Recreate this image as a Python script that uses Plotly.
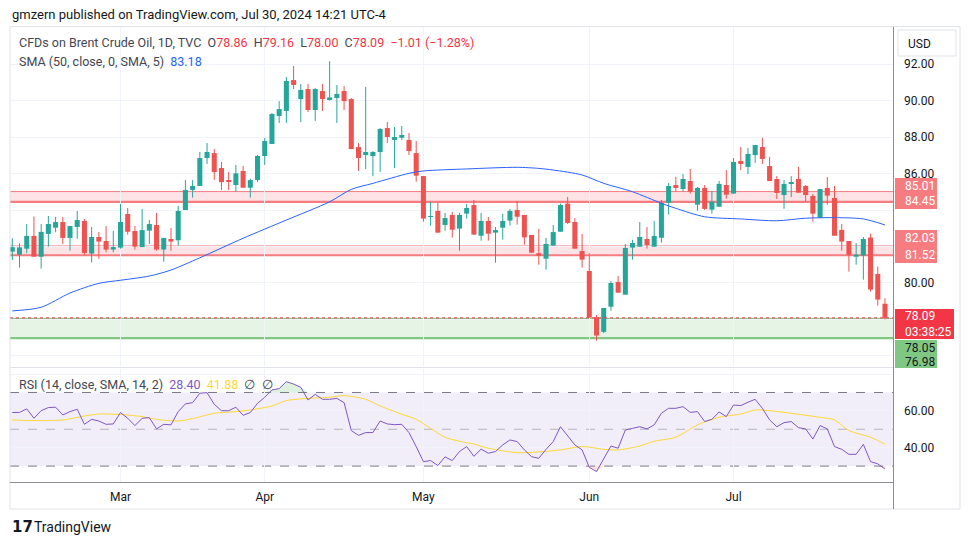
import plotly.graph_objects as go
import pandas as pd

# ---------------- data ----------------
dates = [d.strftime('%Y-%m-%d') for d in pd.bdate_range('2024-02-09', '2024-07-30')
         if d.strftime('%Y-%m-%d') != '2024-03-29']

opens = [81.72, 81.55, 81.88, 82.58, 81.44, 82.69, 83.03, 83.34, 82.47, 83.07,
         83.40, 81.61, 82.52, 82.30, 81.83, 81.94, 83.78, 82.85, 81.97, 82.87,
         83.18, 81.83, 82.41, 82.34, 84.00, 85.10, 85.32, 86.85, 87.12, 86.30,
         85.60, 85.37, 86.14, 85.22, 85.64, 86.96, 87.62, 89.15, 89.43, 91.12,
         90.08, 90.63, 89.48, 90.52, 90.03, 90.14, 90.52, 90.08, 87.45, 87.01,
         86.96, 87.18, 88.49, 87.84, 87.96, 87.84, 87.12, 85.86, 83.63, 83.95,
         83.18, 83.73, 82.98, 83.80, 84.27, 82.59, 83.40, 82.76, 83.03, 83.42,
         84.00, 83.73, 82.63, 81.63, 81.33, 82.05, 82.81, 84.35, 83.34, 81.75,
         80.66, 78.12, 77.32, 78.70, 80.06, 79.36, 81.94, 81.99, 82.41, 81.99,
         82.48, 84.40, 85.37, 85.15, 85.59, 84.29, 85.21, 84.02, 84.18, 85.37,
         84.90, 86.69, 86.36, 87.01, 87.45, 86.41, 85.70, 84.82, 85.46, 85.70,
         85.32, 84.77, 83.58, 85.21, 84.66, 82.91, 82.30, 81.44, 81.50, 82.49,
         80.49, 78.86]
highs = [82.45, 82.17, 83.23, 83.64, 83.23, 83.67, 83.62, 83.62, 83.12, 83.95,
         83.51, 83.07, 82.80, 83.12, 82.85, 84.33, 84.11, 83.12, 84.06, 83.45,
         83.84, 82.47, 83.01, 84.22, 85.64, 85.64, 87.18, 87.67, 87.34, 86.63,
         86.08, 86.47, 86.41, 85.72, 87.01, 87.95, 89.32, 89.97, 91.29, 91.89,
         90.90, 90.90, 90.69, 90.90, 92.16, 90.85, 90.79, 90.14, 87.67, 90.74,
         87.23, 88.49, 88.82, 88.55, 88.60, 88.22, 87.78, 85.86, 84.44, 84.40,
         83.84, 83.89, 83.84, 84.33, 84.55, 83.84, 83.62, 83.07, 83.78, 84.06,
         84.49, 83.73, 82.63, 82.96, 82.47, 83.18, 84.35, 84.71, 83.56, 82.69,
         81.63, 78.25, 78.63, 80.11, 80.38, 82.14, 82.36, 83.34, 83.07, 83.40,
         84.55, 85.48, 85.81, 85.97, 86.25, 85.26, 85.37, 85.04, 85.59, 86.19,
         86.85, 87.45, 87.40, 87.56, 87.95, 86.91, 85.86, 85.64, 85.86, 86.36,
         85.37, 84.88, 85.15, 85.81, 85.32, 83.23, 82.30, 82.19, 82.52, 82.70,
         80.90, 79.16]
lows = [81.26, 80.84, 81.63, 81.44, 80.79, 81.99, 82.78, 82.14, 81.77, 82.43,
        81.52, 81.12, 81.33, 81.68, 81.68, 81.88, 82.65, 81.83, 81.96, 82.14,
        81.77, 81.17, 81.77, 82.05, 84.00, 84.68, 85.32, 86.52, 85.64, 85.10,
        85.10, 85.00, 85.22, 84.68, 85.53, 86.47, 87.62, 88.77, 88.77, 90.63,
        88.82, 89.37, 88.88, 89.43, 90.00, 88.77, 89.48, 87.34, 86.14, 86.25,
        85.86, 86.10, 87.67, 86.30, 87.84, 87.01, 85.55, 83.36, 83.14, 82.76,
        82.87, 82.48, 81.77, 83.53, 82.65, 82.32, 82.32, 81.11, 82.37, 83.14,
        83.20, 82.10, 81.66, 81.00, 80.73, 82.05, 82.81, 83.23, 81.88, 80.84,
        78.10, 76.84, 77.26, 78.48, 79.47, 79.36, 81.28, 81.99, 81.88, 81.99,
        82.21, 83.75, 85.00, 85.00, 84.90, 83.96, 84.00, 83.80, 84.18, 84.62,
        84.90, 86.19, 85.97, 86.58, 86.52, 85.59, 84.60, 84.07, 84.71, 84.95,
        84.46, 83.36, 83.58, 84.29, 82.59, 81.77, 80.62, 81.00, 80.18, 79.53,
        78.76, 78.00]
closes = [81.96, 81.95, 82.58, 81.44, 82.80, 83.23, 83.34, 82.47, 83.12, 83.45,
          81.64, 82.52, 82.27, 81.83, 81.97, 83.34, 82.81, 81.99, 82.90, 83.23,
          81.83, 82.47, 82.27, 83.95, 85.10, 85.32, 86.85, 87.18, 86.08, 85.53,
          85.55, 86.01, 85.22, 85.64, 86.96, 87.78, 89.26, 89.53, 91.07, 90.85,
          90.58, 89.48, 90.63, 90.08, 90.17, 90.36, 89.97, 87.34, 86.85, 87.18,
          87.18, 88.44, 88.00, 88.00, 88.11, 87.23, 85.88, 83.53, 83.67, 82.76,
          83.56, 82.92, 83.73, 84.11, 82.65, 83.40, 82.70, 82.90, 83.40, 83.95,
          83.63, 82.50, 81.66, 81.50, 82.14, 82.79, 84.27, 83.29, 81.88, 81.28,
          78.10, 77.12, 78.63, 80.00, 79.47, 81.92, 82.19, 82.52, 82.08, 82.58,
          84.38, 85.32, 85.21, 85.70, 85.01, 85.21, 84.06, 84.46, 85.43, 84.84,
          86.63, 86.52, 87.07, 87.56, 86.80, 85.59, 84.93, 85.43, 85.53, 84.95,
          84.82, 83.80, 85.15, 84.79, 82.59, 82.27, 81.55, 81.55, 82.41, 79.64,
          79.09, 78.09]

sma_bar = [1, 5, 9, 13, 16, 20, 23, 27, 33, 39, 45, 48, 51, 56, 58, 64, 71, 74, 76,
           80, 83, 87, 91, 93, 97, 102, 107, 111, 115, 119, 122]
sma_val = [78.47, 78.67, 79.45, 79.98, 80.15, 80.38, 80.71, 81.38, 82.45, 83.45,
           84.45, 85.13, 85.46, 86.01, 86.14, 86.25, 86.34, 86.28, 86.19, 85.92,
           85.46, 85.00, 84.37, 84.09, 83.63, 83.51, 83.41, 83.55, 83.58, 83.51, 83.18]

rsi = [59.1, 59.2, 61.1, 56.0, 60.1, 61.8, 62.0, 57.8, 59.6, 60.9,
       52.7, 55.4, 54.5, 52.7, 52.9, 59.1, 56.0, 52.0, 56.0, 56.3,
       50.2, 52.7, 52.4, 59.6, 63.8, 64.5, 69.6, 69.9, 63.6, 60.1,
       60.1, 62.0, 57.6, 59.1, 64.1, 67.4, 71.4, 72.1, 75.9, 74.6,
       72.8, 65.9, 69.0, 66.3, 66.3, 66.8, 64.5, 49.3, 46.7, 48.2,
       48.2, 54.5, 52.9, 52.5, 52.7, 48.2, 40.6, 32.4, 33.0, 30.3,
       35.0, 33.0, 37.9, 40.6, 35.3, 39.2, 37.0, 37.9, 41.5, 44.2,
       43.3, 38.8, 35.1, 34.2, 39.1, 43.3, 51.4, 46.4, 41.5, 38.8,
       29.3, 27.0, 34.2, 40.9, 39.7, 49.6, 50.5, 51.4, 50.2, 52.4,
       58.7, 61.4, 61.4, 62.3, 59.2, 59.6, 54.2, 55.4, 59.4, 56.9,
       63.2, 62.9, 64.7, 66.3, 61.4, 55.1, 51.4, 53.6, 54.2, 50.9,
       50.2, 44.7, 52.0, 50.2, 40.6, 39.1, 36.4, 36.4, 41.8, 32.4,
       31.2, 28.4]

rsi_sma_bar = [1, 4, 8, 11, 13, 16, 19, 21, 24, 26, 29, 32, 34, 37, 39, 42, 45, 47,
               50, 52, 55, 57, 59, 61, 63, 65, 67, 71, 74, 77, 80, 83, 85, 88, 90,
               93, 96, 99, 102, 104, 106, 109, 113, 115, 117, 120, 122]
rsi_sma_val = [55.1, 54.7, 55.1, 57.2, 58.3, 58.0, 56.9, 55.4, 54.5, 55.8, 58.7,
               59.6, 60.5, 62.7, 65.6, 66.8, 67.4, 68.3, 66.3, 62.7, 58.2, 55.4,
               50.5, 45.7, 43.5, 42.0, 39.7, 37.3, 37.7, 38.8, 40.6, 39.1, 38.8,
               40.9, 43.5, 45.7, 52.4, 56.5, 58.3, 60.5, 60.1, 58.7, 56.5, 55.1,
               49.3, 45.7, 41.88]

zones_red = [(84.45, 85.01), (81.52, 82.03)]
zone_green = (76.98, 78.05)
last_price = 78.09
countdown = '03:38:25'
rsi_upper, rsi_mid, rsi_lower = 70, 50, 30

month_ticks = ['2024-03-01', '2024-04-01', '2024-05-01', '2024-06-03', '2024-07-01']
month_text = ['Mar', 'Apr', 'May', 'Jun', 'Jul']
price_labels = [80, 86, 88, 90, 92]
price_grid_only = [76, 78, 82, 84]
rsi_labels = [40, 60]
rsi_grid_only = [80]

# ---------------- layout helpers (reference-pixel based; page has 8px body margin) ----------------
OFF = 8
W, H = 970 - OFF, 545 - OFF
PL, PR, PT, PB = 10, 893, 27, 483          # plot area in reference pixels
ML, MR, MT, MB = PL - OFF, 970 - PR, PT - OFF, 545 - PB
PW, PH = PR - PL, PB - PT
FONT = 'Roboto'
TXT = '#131722'
LEG = '#434651'
GRID = '#f0f3fa'
UP, DN = '#26a69a', '#ef5350'


def px(x):
    return (x - PL) / PW


def py(y):
    return (PB - y) / PH


main_dom = [py(366), 1.0]
rsi_dom = [0.0, py(369)]

fig = go.Figure()

# candles: wicks as line segments, bodies as bars
for is_up, col in [(True, UP), (False, DN)]:
    idx = [i for i in range(len(dates)) if (closes[i] >= opens[i]) == is_up]
    wx, wy = [], []
    for i in idx:
        wx += [dates[i], dates[i], None]
        wy += [lows[i], highs[i], None]
    fig.add_trace(go.Scatter(x=wx, y=wy, mode='lines', line=dict(color=col, width=1),
                             xaxis='x', yaxis='y', hoverinfo='skip', showlegend=False,
                             connectgaps=False))
    fig.add_trace(go.Bar(x=[dates[i] for i in idx],
                         base=[min(opens[i], closes[i]) for i in idx],
                         y=[max(abs(closes[i] - opens[i]), 0.04) for i in idx],
                         width=0.7, marker=dict(color=col, line=dict(width=0)),
                         xaxis='x', yaxis='y', hoverinfo='skip', showlegend=False))

fig.add_trace(go.Scatter(
    x=[dates[i - 1] for i in sma_bar], y=sma_val, mode='lines',
    line=dict(color='#2962ff', width=1, shape='spline', smoothing=0.8),
    xaxis='x', yaxis='y', hoverinfo='skip', showlegend=False))

# RSI overbought / oversold fills
for lvl, fn, fc in [(rsi_upper, max, 'rgba(76,175,80,0.18)'),
                    (rsi_lower, min, 'rgba(242,54,69,0.15)')]:
    fig.add_trace(go.Scatter(x=dates, y=[lvl] * len(dates), mode='lines',
                             line=dict(width=0), xaxis='x2', yaxis='y2',
                             hoverinfo='skip', showlegend=False))
    fig.add_trace(go.Scatter(x=dates, y=[fn(r, lvl) for r in rsi], mode='lines',
                             line=dict(width=0), fill='tonexty', fillcolor=fc,
                             xaxis='x2', yaxis='y2', hoverinfo='skip', showlegend=False))

fig.add_trace(go.Scatter(
    x=[dates[i - 1] for i in rsi_sma_bar], y=rsi_sma_val, mode='lines',
    line=dict(color='#fdd835', width=1, shape='spline', smoothing=0.8),
    xaxis='x2', yaxis='y2', hoverinfo='skip', showlegend=False))

fig.add_trace(go.Scatter(
    x=dates, y=rsi, mode='lines', line=dict(color='#7e57c2', width=1),
    xaxis='x2', yaxis='y2', hoverinfo='skip', showlegend=False))

shapes = []
for lo, hi in zones_red:
    shapes.append(dict(type='rect', xref='paper', yref='y', x0=0, x1=1, y0=lo, y1=hi,
                       fillcolor='rgba(242,54,69,0.14)', line=dict(width=0), layer='below'))
    shapes.append(dict(type='line', xref='paper', yref='y', x0=0, x1=1, y0=hi, y1=hi,
                       line=dict(color='#f77c80', width=1), layer='below'))
    shapes.append(dict(type='line', xref='paper', yref='y', x0=0, x1=1, y0=lo, y1=lo,
                       line=dict(color='#f77c80', width=2.2), layer='below'))
lo, hi = zone_green
shapes.append(dict(type='rect', xref='paper', yref='y', x0=0, x1=1, y0=lo, y1=hi,
                   fillcolor='rgba(76,175,80,0.14)', line=dict(width=0), layer='below'))
shapes.append(dict(type='line', xref='paper', yref='y', x0=0, x1=1, y0=hi, y1=hi,
                   line=dict(color='#81c784', width=1), layer='below'))
shapes.append(dict(type='line', xref='paper', yref='y', x0=0, x1=1, y0=lo, y1=lo,
                   line=dict(color='#81c784', width=2.2), layer='below'))
shapes.append(dict(type='line', xref='paper', yref='y', x0=0, x1=1, y0=last_price, y1=last_price,
                   line=dict(color='#f23645', width=1, dash='dot')))
# RSI band and levels
shapes.append(dict(type='rect', xref='paper', yref='y2', x0=0, x1=1, y0=rsi_lower, y1=rsi_upper,
                   fillcolor='rgba(126,87,194,0.1)', line=dict(width=0), layer='below'))
for lvl, col in [(rsi_upper, '#787b86'), (rsi_lower, '#787b86'), (rsi_mid, 'rgba(120,123,134,0.5)')]:
    shapes.append(dict(type='line', xref='paper', yref='y2', x0=0, x1=1, y0=lvl, y1=lvl,
                       line=dict(color=col, width=1, dash='dash'), layer='below'))
# frame lines
shapes.append(dict(type='rect', xref='paper', yref='paper', x0=px(10), x1=px(960),
                   y0=py(509), y1=py(26.5), line=dict(color='#e0e3eb', width=1)))
shapes.append(dict(type='line', xref='paper', yref='paper', x0=px(10), x1=px(893),
                   y0=py(367.5), y1=py(367.5), line=dict(color='#e0e3eb', width=1)))
shapes.append(dict(type='line', xref='paper', yref='paper', x0=px(893.5), x1=px(893.5),
                   y0=py(509), y1=py(27), line=dict(color='#8a8d96', width=1)))
shapes.append(dict(type='line', xref='paper', yref='paper', x0=px(10), x1=px(893.5),
                   y0=py(482.5), y1=py(482.5), line=dict(color='#8a8d96', width=1)))
shapes.append(dict(type='rect', xref='paper', yref='paper', x0=px(898), x1=px(956),
                   y0=py(56), y1=py(30), line=dict(color='#e0e3eb', width=1)))

ann = []


def text(x, y, s, size=12.5, color=LEG, fam=FONT, anchor='left'):
    ann.append(dict(xref='paper', yref='paper', x=px(x), y=py(y), xanchor=anchor,
                    yanchor='middle', text=s, showarrow=False,
                    font=dict(size=size, color=color, family=fam)))


red = '#f23645'
text(10, 14, 'gmzern published on TradingView.com, Jul 30, 2024 14:21 UTC-4', 13, TXT)
text(17, 42, ('CFDs on Brent Crude Oil, 1D, TVC&nbsp;&nbsp;'
              f'O<span style="color:{red}">78.86</span>&nbsp;&nbsp;'
              f'H<span style="color:{red}">79.16</span>&nbsp;&nbsp;'
              f'L<span style="color:{red}">78.00</span>&nbsp;&nbsp;'
              f'C<span style="color:{red}">78.09</span>&nbsp;&nbsp;'
              f'<span style="color:{red}">−1.01 (−1.28%)</span>'))
text(17, 62, 'SMA (50, close, 0, SMA, 5)&nbsp;&nbsp;<span style="color:#2962ff">83.18</span>')
text(17, 384, ('RSI (14, close, SMA, 14, 2)&nbsp;&nbsp;<span style="color:#7e57c2">28.40</span>'
               '&nbsp;&nbsp;<span style="color:#fdd835">41.88</span>&nbsp;&nbsp;∅&nbsp;&nbsp;∅'))
text(906, 44, 'USD', 12, TXT)
text(10, 527, '<b>17</b>', 15, TXT, 'DejaVu Sans')
text(32, 527, 'TradingView', 14, TXT)


# price-axis tags: box shapes + text (reference-pixel rows)
def tag(top, bottom, right, bg, fc, rows):
    shapes.append(dict(type='rect', xref='paper', yref='paper', x0=px(895), x1=px(right),
                       y0=py(bottom), y1=py(top), fillcolor=bg, line=dict(width=0),
                       layer='above'))
    for yy, s in rows:
        text(903, yy, s, 12, fc)


tag(178, 209, 937, '#f77c80', 'white',
    [(186, f'{zones_red[0][1]:.2f}'), (201, f'{zones_red[0][0]:.2f}')])
tag(230, 263, 937, '#f77c80', 'white',
    [(238, f'{zones_red[1][1]:.2f}'), (255, f'{zones_red[1][0]:.2f}')])
tag(309, 339, 954, '#f23645', 'white',
    [(316, f'{last_price:.2f}'), (332, countdown)])
tag(340, 368, 937, '#81c784', TXT,
    [(348, f'{zone_green[1]:.2f}'), (362, f'{zone_green[0]:.2f}')])

xr = [-0.32, 122.11]
xcommon = dict(type='category', categoryorder='array', categoryarray=dates, range=xr,
               tickvals=month_ticks, ticktext=month_text, showgrid=True, gridcolor=GRID,
               gridwidth=1, zeroline=False, showline=False, ticks='', fixedrange=True)

fig.update_layout(
    width=W, height=H, margin=dict(l=ML, r=MR, t=MT, b=MB),
    paper_bgcolor='white', plot_bgcolor='white', showlegend=False, barmode='overlay',
    font=dict(family=FONT, color=TXT, size=12),
    xaxis=dict(**xcommon, anchor='y', domain=[0, 1], showticklabels=False),
    xaxis2=dict(**xcommon, anchor='y2', domain=[0, 1], showticklabels=True,
                ticklabelstandoff=5, tickfont=dict(size=12, color=TXT)),
    yaxis=dict(domain=main_dom, range=[75.45, 94.03], side='right', tickvals=price_labels,
               tickformat='.2f', showgrid=True, gridcolor=GRID, zeroline=False, ticks='',
               minor=dict(tickvals=price_grid_only, showgrid=True, gridcolor=GRID, ticks=''),
               ticklabelstandoff=10, tickfont=dict(size=12, color=TXT), anchor='x'),
    yaxis2=dict(domain=rsi_dom, range=[20.8, 82.77], side='right', tickvals=rsi_labels,
                tickformat='.2f', showgrid=True, gridcolor=GRID, zeroline=False, ticks='',
                minor=dict(tickvals=rsi_grid_only, showgrid=True, gridcolor=GRID, ticks=''),
                ticklabelstandoff=10, tickfont=dict(size=12, color=TXT), anchor='x2'),
    shapes=shapes, annotations=ann)

fig.write_html('out.html')
